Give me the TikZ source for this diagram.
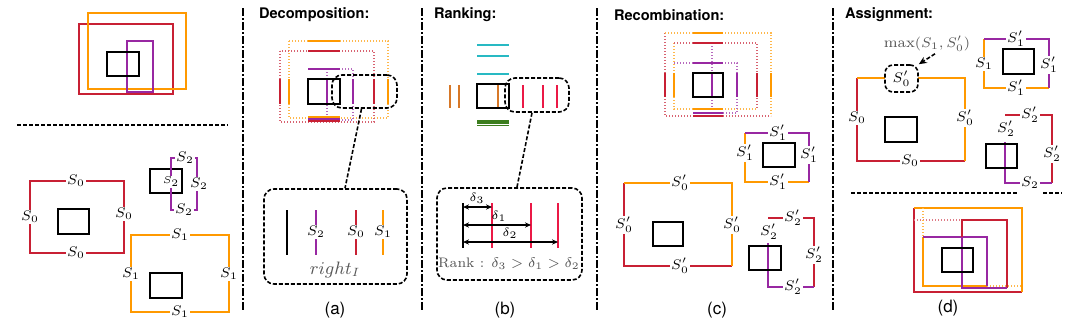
\documentclass[tikz,border=0pt]{standalone}
\usepackage{fontspec}
\setsansfont{TeX Gyre Heros}
\usetikzlibrary{calc,arrows.meta}
\usepackage{xcolor}
\definecolor{boxorange}{RGB}{255,153,0}
\definecolor{boxred}{RGB}{200,32,52}
\definecolor{boxpurple}{RGB}{152,40,162}
\definecolor{rankcyan}{RGB}{40,185,195}
\definecolor{rankgreen}{RGB}{60,125,30}
\definecolor{rankorange}{RGB}{215,120,40}
\definecolor{rankred}{RGB}{235,25,70}
\definecolor{labelgray}{RGB}{85,85,85}

\begin{document}
\begin{tikzpicture}[x=0.5pt,y=-0.5pt,
  every node/.style={inner sep=0.8pt},
  slbl/.style={fill=white,font=\fontsize{6.7}{7}\selectfont},
  tinylbl/.style={fill=white,inner sep=0.3pt,font=\fontsize{4}{4}\selectfont},
  title/.style={anchor=west,font=\fontsize{7.3}{8}\selectfont\sffamily\bfseries},
  caption/.style={font=\fontsize{8.5}{9}\selectfont\sffamily},
  thickbox/.style={line width=1.3pt},
  edge/.style={line width=1.1pt},
  blkbox/.style={draw=black,line width=1pt},
  dotline/.style={line width=0.55pt,dash pattern=on 0.6pt off 0.9pt},
  zoombox/.style={draw=black,rounded corners=5pt,line width=0.8pt,
    dash pattern=on 2pt off 1pt},
  conn/.style={draw=black,line width=0.8pt,dash pattern=on 2pt off 1pt},
  separator/.style={line width=0.75pt,dash pattern=on 4pt off 1.2pt on 0.6pt off 1.2pt},
  dimarrow/.style={line width=0.9pt,{Stealth[length=3pt,width=2.6pt]}-{Stealth[length=3pt,width=2.6pt]}}
]
  \useasboundingbox (0,0) rectangle (1080,329);

  % --- separators ---
  \foreach \x in {243,422,597,833}{
    \draw[separator] (\x,8) -- (\x,312);
  }
  \draw[line width=0.75pt,dash pattern=on 2pt off 1pt] (17,125) -- (228,125);

  % --- input boxes (top left) ---
  \draw[boxred,thickbox] (79,24) rectangle (173,94);
  \draw[boxorange,thickbox] (88,13) rectangle (186,89);
  \draw[boxpurple,thickbox] (127,41) rectangle (153,92);
  \draw[blkbox] (107,52) rectangle (139,76);

  % --- edge sets S0, S1, S2 ---
  \draw[boxred,thickbox] (30,181) rectangle (124,253);
  \draw[blkbox] (58,209) rectangle (89,234);
  \node[slbl] (s0t) at (76,181) {$S_0$};
  \node[slbl] (s0l) at (30,217) {$S_0$};
  \node[slbl] (s0r) at (124,214) {$S_0$};
  \node[slbl] (s0b) at (76,253) {$S_0$};

  \draw[boxorange,thickbox] (131,235) rectangle (229,312);
  \draw[blkbox] (150,273) rectangle (182,298);
  \node[slbl] (s1t) at (180,235) {$S_1$};
  \node[slbl] (s1l) at (131,274) {$S_1$};
  \node[slbl] (s1r) at (229,274) {$S_1$};
  \node[slbl] (s1b) at (180,312) {$S_1$};

  \draw[blkbox] (150,169) rectangle (182,193);
  \draw[boxpurple,thickbox] (171,158) rectangle (197,210);
  \node[tinylbl] (s2l) at (171,182) {$S_2$};
  \node[slbl] (s2t) at (185,158) {$S_2$};
  \node[slbl] (s2r) at (199,184) {$S_2$};
  \node[slbl] (s2b) at (184,210) {$S_2$};

  % --- (a) decomposition ---
  \node[title] (ttla) at (257,15) {Decomposition:};
  \draw[dotline,boxorange!70] (289,41) rectangle (388,118);
  \draw[dotline,boxred!70] (280,51) rectangle (374,122);
  \draw[dotline,boxpurple!70] (308,69) -- (327,69);
  \draw[dotline,boxpurple!70] (327,69) rectangle (353,120);
  \draw[edge,boxorange] (308,41) -- (340,41);
  \draw[edge,boxred] (308,51) -- (340,51);
  \draw[edge,boxpurple] (308,69) -- (340,69);
  \draw[edge,boxorange] (308,117) -- (340,117);
  \draw[edge,boxpurple] (308,119) -- (340,119);
  \draw[edge,boxred] (308,121) -- (340,121);
  \foreach \x/\c in {280/boxred,289/boxorange,327/boxpurple,353/boxpurple,374/boxred,388/boxorange}{
    \draw[edge,\c] (\x,79) -- (\x,104);
  }
  \draw[blkbox] (308,79) rectangle (340,104);
  \node[zoombox,minimum width=32.5pt,minimum height=16.5pt] (decozoom) at (364.5,91.5) {};
  \node[zoombox,minimum width=71.5pt,minimum height=47.5pt] (decodetail) at (335.5,236.5) {};
  \draw[conn] ($(decozoom.south)+(-3,0)$) -- ($(decodetail.north)+(9.5,0)$);
  \draw[line width=0.9pt] (287,210) -- (287,255);
  \foreach \x/\c in {316/boxpurple,356/boxred,383/boxorange}{
    \draw[edge,\c] (\x,210) -- (\x,255);
  }
  \node[slbl] (ra2) at (316,232) {$S_2$};
  \node[slbl] (ra0) at (356,232) {$S_0$};
  \node[slbl] (ra1) at (383,232) {$S_1$};
  \node[text=labelgray,font=\fontsize{9}{9}\selectfont] (rightlbl) at (335,270) {$right_I$};
  \node[caption] (capa) at (335,310) {(a)};

  % --- (b) ranking ---
  \node[title] (ttlb) at (432,15) {Ranking:};
  \foreach \y in {45,56,74}{
    \draw[rankcyan,line width=0.8pt] (477,\y) -- (509,\y);
  }
  \foreach \y in {121,123.2,125.4}{
    \draw[rankgreen,line width=0.8pt] (477,\y) -- (509,\y);
  }
  \foreach \x in {450,459,498}{
    \draw[rankorange,line width=0.8pt] (\x,85) -- (\x,108);
  }
  \foreach \x in {523,543,557}{
    \draw[rankred,line width=0.9pt] (\x,85) -- (\x,108);
  }
  \draw[blkbox] (477,84) rectangle (509,108);
  \node[zoombox,minimum width=32pt,minimum height=17pt] (rankzoom) at (537,95) {};
  \node[zoombox,minimum width=72.5pt,minimum height=46pt] (rankdetail) at (509.5,234) {};
  \draw[conn] ($(rankzoom.south)+(-5,0)$) -- ($(rankdetail.north)+(7.5,0)$);
  \draw[line width=1.3pt] (463,203) -- (463,248);
  \foreach \n/\x in {3/492,1/531,2/558}{
    \draw[rankred,line width=0.9pt] (\x,203) -- (\x,248);
    \coordinate (dl\n) at (\x,0);
  }
  \coordinate (dl0) at (463,0);
  \draw[dimarrow] (dl0 |- 0,207) -- (dl3 |- 0,207);
  \draw[dimarrow] (dl0 |- 0,225) -- (dl1 |- 0,225);
  \draw[dimarrow] (dl0 |- 0,242) -- (dl2 |- 0,242);
  \node[font=\fontsize{6}{6}\selectfont] (dlt3) at (477,198) {$\delta_3$};
  \node[font=\fontsize{6}{6}\selectfont] (dlt1) at (499,216) {$\delta_1$};
  \node[font=\fontsize{6}{6}\selectfont] (dlt2) at (510,233) {$\delta_2$};
  \node[text=labelgray,font=\fontsize{6.9}{8}\selectfont] (ranklbl) at (509,264)
    {Rank : $\delta_3 > \delta_1 > \delta_2$};
  \node[caption] (capb) at (505,310) {(b)};

  % --- (c) recombination ---
  \node[title] (ttlc) at (612,15) {Recombination:};
  \draw[dotline,boxred!70] (665,33) -- (665,116) -- (771,116);
  \draw[dotline,boxorange!70] (665,33) -- (771,33) -- (771,116);
  \draw[dotline,boxorange!70] (674,43) -- (674,109) -- (757,109);
  \draw[dotline,boxred!70] (674,43) -- (757,43) -- (757,109);
  \draw[dotline,boxpurple!70] (674,63) -- (737,63) -- (737,113) -- (712,113);
  \draw[dotline,boxpurple!70] (712,43) -- (712,113);
  \draw[edge,boxorange] (693,33) -- (723,33);
  \draw[edge,boxred] (693,43) -- (723,43);
  \draw[edge,boxpurple] (693,63) -- (723,63);
  \draw[edge,boxorange] (693,109) -- (723,109);
  \draw[edge,boxpurple] (693,113) -- (723,113);
  \draw[edge,boxred] (693,116) -- (723,116);
  \foreach \x/\c in {665/boxred,674/boxorange,712/boxpurple,737/boxpurple,757/boxred,771/boxorange}{
    \draw[edge,\c] (\x,73) -- (\x,97);
  }
  \draw[blkbox] (693,73) rectangle (723,97);

  \draw[edge,boxorange] (745,133) -- (745,182) -- (809,182);
  \draw[edge,boxpurple] (745,133) -- (809,133) -- (809,182);
  \draw[blkbox] (763,143) rectangle (795,167);
  \node[slbl] (c1t) at (778,133) {$S'_1$};
  \node[slbl] (c1l) at (745,153) {$S'_1$};
  \node[slbl] (c1r) at (809,155) {$S'_1$};
  \node[slbl] (c1b) at (778,182) {$S'_1$};

  \draw[edge,boxred] (624,183) -- (624,266) -- (732,266);
  \draw[edge,boxorange] (624,183) -- (732,183) -- (732,266);
  \draw[blkbox] (653,222) rectangle (683,246);
  \node[slbl] (c0t) at (680,183) {$S'_0$};
  \node[slbl] (c0l) at (624,225) {$S'_0$};
  \node[slbl] (c0r) at (732,225) {$S'_0$};
  \node[slbl] (c0b) at (680,266) {$S'_0$};

  \draw[edge,boxred] (768,218) -- (814,218) -- (814,287);
  \draw[edge,boxpurple] (768,243) -- (768,287) -- (814,287);
  \draw[blkbox] (749,246) rectangle (781,270);
  \node[slbl] (c2t) at (793,218) {$S'_2$};
  \node[font=\fontsize{6.7}{7}\selectfont] (c2l) at (769,232) {$S'_2$};
  \node[slbl] (c2r) at (814,255) {$S'_2$};
  \node[slbl] (c2b) at (793,287) {$S'_2$};
  \node[caption] (capc) at (717,310) {(c)};

  % --- (d) assignment ---
  \node[title] (ttld) at (843,15) {Assignment:};
  \draw[edge,boxred] (857,78) -- (857,161) -- (965,161);
  \draw[edge,boxorange] (857,78) -- (965,78) -- (965,161);
  \draw[blkbox] (885,117) rectangle (917,142);
  \node[slbl,draw=black,dash pattern=on 2pt off 1pt,line width=0.8pt,
    rounded corners=4pt,minimum width=16.5pt,minimum height=13.5pt] (d0t) at (901.5,78.5) {$S'_0$};
  \node[slbl] (d0l) at (857,118) {$S_0$};
  \node[slbl] (d0r) at (965,118) {$S'_0$};
  \node[slbl] (d0b) at (910,161) {$S_0$};
  \node[text=labelgray,font=\fontsize{7.4}{8}\selectfont] (maxlbl) at (927,44) {$\max(S_1,S'_0)$};
  \draw[conn,-{Stealth[length=4pt,width=3.5pt]}] ($(maxlbl.south)+(8,0)$) -- (d0t.north east);

  \draw[edge,boxorange] (984,39) -- (984,88) -- (1049,88);
  \draw[edge,boxpurple] (984,39) -- (1049,39) -- (1049,88);
  \draw[blkbox] (1003,49) rectangle (1034,74);
  \node[slbl] (d1t) at (1016,39) {$S'_1$};
  \node[slbl] (d1l) at (984,64) {$S_1$};
  \node[slbl] (d1r) at (1049,65) {$S'_1$};
  \node[slbl] (d1b) at (1016,88) {$S'_1$};

  \draw[edge,boxred] (1005,115) -- (1052,115) -- (1052,183);
  \draw[edge,boxpurple] (1005,142) -- (1005,183) -- (1052,183);
  \draw[blkbox] (986,144) rectangle (1017,168);
  \node[slbl] (d2t) at (1030,115) {$S'_2$};
  \node[font=\fontsize{6.7}{7}\selectfont] (d2l) at (1006,129) {$S'_2$};
  \node[slbl] (d2r) at (1052,154) {$S'_2$};
  \node[slbl] (d2b) at (1030,183) {$S_2$};

  \draw[line width=0.75pt,dash pattern=on 2pt off 1pt] (851,193) -- (1017,193);
  \draw[line width=0.75pt,dash pattern=on 2pt off 1pt] (1043,193) -- (1062,193);

  % final boxes
  \draw[thickbox,boxred] (914,208) -- (914,292) -- (1022,292);
  \draw[thickbox,boxorange] (914,208) -- (1022,208) -- (1022,292);
  \draw[dotline,boxred!60] (914,220) -- (962,220);
  \draw[dotline,boxorange!70] (923,208) -- (923,237);
  \draw[dotline,boxorange!70] (987,286) -- (1022,286);
  \draw[thickbox,boxorange] (923,237) -- (923,286) -- (987,286);
  \draw[thickbox,boxpurple] (923,237) -- (987,237) -- (987,286);
  \draw[thickbox,boxred] (962,237) -- (962,220) -- (1007,220) -- (1007,288);
  \draw[thickbox,boxpurple] (962,237) -- (962,288) -- (1007,288);
  \draw[blkbox] (942,248) rectangle (973,272);
  \node[caption] (capd) at (948,308) {(d)};

\end{tikzpicture}
\end{document}
